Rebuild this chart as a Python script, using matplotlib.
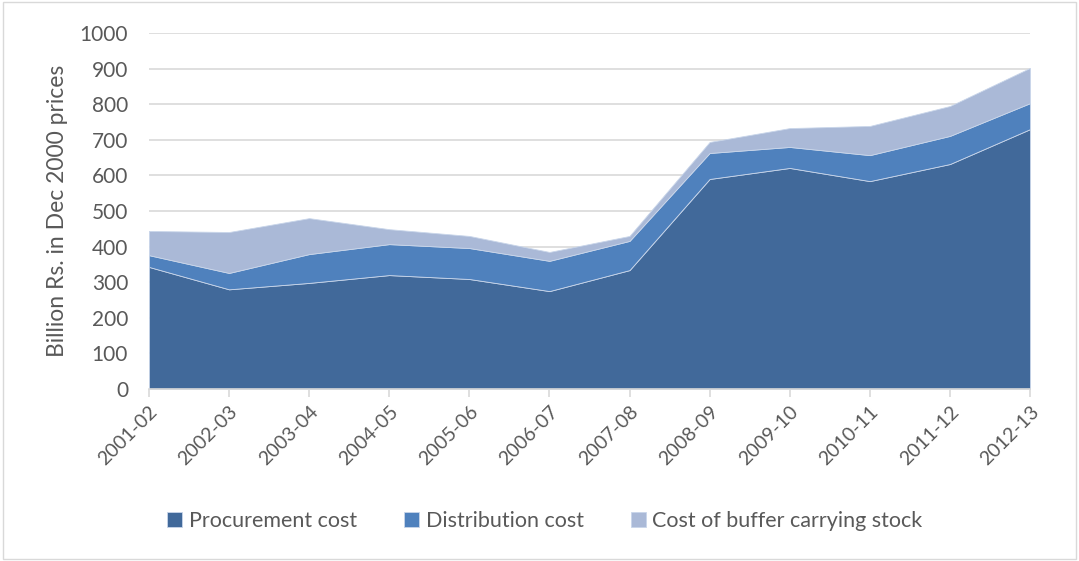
import numpy as np
import matplotlib.pyplot as plt
from matplotlib.patches import Rectangle

# data
years = ['2001-02', '2002-03', '2003-04', '2004-05', '2005-06', '2006-07',
         '2007-08', '2008-09', '2009-10', '2010-11', '2011-12', '2012-13']
procurement = [343, 280, 298, 320, 309, 275, 334, 590, 621, 584, 632, 730]
distribution = [33, 46, 81, 87, 87, 85, 82, 73, 59, 73, 79, 73]
buffer_stock = [68, 115, 101, 42, 34, 25, 14, 31, 53, 82, 84, 99]
labels = ['Procurement cost', 'Distribution cost', 'Cost of buffer carrying stock']
colors = ['#41699a', '#4f81bd', '#aab9d7']

plt.rcParams['font.family'] = ['Lato', 'DejaVu Sans']
txt = '#595959'

fig = plt.figure(figsize=(10.79, 5.61), dpi=100)
ax = fig.add_axes([0.138, 0.3066, 0.8166, 0.6345])

x = np.arange(len(years))
ax.stackplot(x, procurement, distribution, buffer_stock, colors=colors,
             labels=labels, edgecolor='#c9d6ea', linewidth=0.6, zorder=2)

ax.set_xlim(0, len(years) - 1)
ax.set_ylim(0, 1000)
ax.set_yticks(range(0, 1001, 100))
ax.grid(axis='y', color='#d9d9d9', linewidth=1.2, zorder=0)
ax.set_axisbelow(True)

ax.set_xticks(x)
ax.set_xticklabels(years, rotation=45, ha='right', rotation_mode='anchor')
ax.tick_params(axis='x', colors='#d9d9d9', length=6, width=1.2, labelcolor=txt,
               labelsize=14, pad=4)
ax.tick_params(axis='y', length=0, labelcolor=txt, labelsize=15, pad=15)

for s in ['top', 'right', 'left']:
    ax.spines[s].set_visible(False)
ax.spines['bottom'].set_color('#d9d9d9')
ax.spines['bottom'].set_linewidth(1.2)
ax.spines['bottom'].set_zorder(3)

ax.set_ylabel('Billion Rs. in Dec 2000 prices', fontsize=16.5, color=txt, labelpad=8)

leg = fig.legend(loc='center', bbox_to_anchor=(0.505, 0.072), ncol=3,
                 frameon=False, fontsize=15.5, handlelength=0.7, handleheight=0.7,
                 handletextpad=0.3, columnspacing=2.2)
for t in leg.get_texts():
    t.set_color(txt)

# outer chart border
fig.patches.append(Rectangle((0.003, 0.004), 0.994, 0.992, transform=fig.transFigure,
                             fill=False, edgecolor='#d9d9d9', linewidth=1))

fig.savefig('out.png', dpi=100)
